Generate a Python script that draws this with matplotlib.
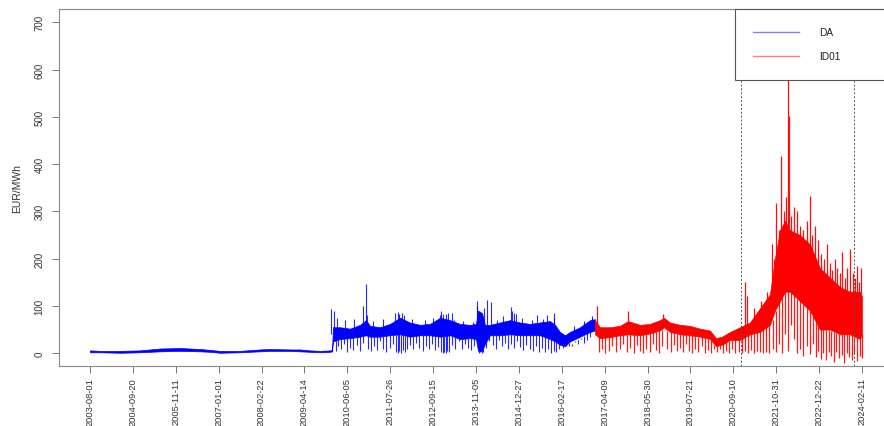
import numpy as np
import matplotlib
matplotlib.use("Agg")
import matplotlib.pyplot as plt
from matplotlib.lines import Line2D

plt.rcParams['font.family'] = ['Liberation Sans', 'DejaVu Sans']

# ---------------- data ----------------
START = np.datetime64("2003-08-01")

tick_labels = ["2003-08-01", "2004-09-20", "2005-11-11", "2007-01-01", "2008-02-22",
               "2009-04-14", "2010-06-05", "2011-07-26", "2012-09-15", "2013-11-05",
               "2014-12-27", "2016-02-17", "2017-04-09", "2018-05-30", "2019-07-21",
               "2020-09-10", "2021-10-31", "2022-12-22", "2024-02-11"]
y_ticks = [0, 100, 200, 300, 400, 500, 600, 700]

# DA (day-ahead): dense band, days since 2003-08-01, lower / upper envelope (EUR/MWh)
da_days = [0, 97, 291, 486, 583, 680, 874, 1069, 1166, 1263, 1457, 1651, 1748, 1943,
           2040, 2137, 2234, 2331, 2351, 2360, 2428, 2526, 2623, 2681, 2720, 2817, 2914,
           3011, 3108, 3205, 3302, 3400, 3497, 3594, 3691, 3749, 3769, 3808, 3837, 3885,
           3982, 4080, 4177, 4274, 4371, 4468, 4517, 4565, 4614, 4662, 4760, 4857, 4905]
da_low = [2, 2, 1, 2, 3, 4, 5, 4, 3, 1, 2, 4, 5, 5,
          4, 3, 2, 3, 4, 25, 30, 32, 35, 38, 35, 35, 38,
          40, 35, 38, 38, 35, 38, 30, 32, 30, 5, 5, 20, 38,
          38, 40, 38, 38, 38, 30, 25, 18, 15, 25, 35, 45, 48]
da_high = [6, 5, 5, 6, 8, 10, 11, 9, 7, 5, 5, 8, 9, 8,
           8, 6, 5, 6, 7, 55, 55, 52, 60, 70, 58, 55, 62,
           75, 65, 60, 62, 75, 70, 62, 60, 62, 90, 85, 60, 60,
           65, 70, 65, 62, 65, 68, 60, 45, 38, 45, 55, 70, 72]

# DA single-hour excursions above the band: day, from, to
da_up_days = [2341, 2370, 2400, 2480, 2560, 2652, 2681, 2690, 2750, 2850, 2960, 2992,
              3000, 3030, 3050, 3130, 3250, 3330, 3395, 3409, 3430, 3460, 3477, 3516,
              3540, 3620, 3720, 3759, 3760, 3830, 3856, 3895, 3950, 4010, 4089, 4100,
              4118, 4140, 4200, 4290, 4342, 4400, 4440, 4507, 4510, 4700, 4800, 4876, 4880]
da_up_lo = [40, 40, 50, 50, 50, 55, 60, 55, 55, 55, 60, 60,
            60, 60, 60, 55, 55, 55, 60, 60, 60, 60, 60, 60,
            55, 55, 55, 60, 60, 60, 60, 60, 55, 55, 60, 60,
            60, 60, 55, 55, 55, 55, 55, 55, 55, 40, 50, 60, 60]
da_up_hi = [93, 90, 75, 70, 72, 100, 146, 80, 68, 72, 85, 88,
            82, 85, 80, 72, 70, 75, 80, 89, 84, 82, 86, 86,
            70, 68, 66, 110, 100, 95, 112, 108, 70, 78, 97, 90,
            85, 82, 75, 70, 80, 72, 80, 85, 75, 58, 68, 78, 75]

# DA single-hour excursions below the band: day, from, to
da_dn_days = [2385, 2410, 2440, 2470, 2500, 2530, 2555, 2590, 2620, 2650, 2700, 2730,
              2760, 2790, 2820, 2850, 2880, 2910, 2945, 2975, 2990, 3005, 3020, 3040,
              3060, 3080, 3110, 3140, 3170, 3200, 3230, 3260, 3290, 3320, 3350, 3380,
              3410, 3425, 3440, 3455, 3470, 3490, 3520, 3550, 3580, 3610, 3640, 3670,
              3700, 3730, 3775, 3790, 3805, 3820, 3850, 3880, 3910, 3940, 3970, 4000,
              4030, 4060, 4090, 4120, 4150, 4180, 4210, 4240, 4270, 4300, 4330, 4360,
              4390, 4420, 4450, 4480, 4505, 4530, 4560, 4590, 4620, 4650, 4680, 4710,
              4740, 4770, 4800, 4830, 4860]
da_dn_lo = [5, 15, 8, 20, 3, 12, 6, 18, 4, 22, 10, 4,
            15, 6, 25, 8, 3, 12, 20, 2, 0, 4, 1, 6,
            2, 10, 18, 8, 22, 12, 5, 15, 9, 20, 6, 14,
            2, 0, 3, 1, 5, 2, 18, 10, 25, 8, 20, 12,
            6, 15, 0, 2, 1, 3, 12, 25, 18, 10, 28, 15,
            22, 8, 20, 12, 26, 14, 6, 18, 10, 4, 15, 3,
            12, 2, 8, 1, 5, 3, 8, 12, 18, 22, 15, 25,
            20, 30, 22, 28, 35]
da_dn_hi = [32, 32, 34, 34, 34, 34, 35, 36, 36, 36, 38, 36,
            36, 36, 36, 36, 37, 38, 38, 38, 40, 40, 40, 38,
            36, 36, 36, 37, 38, 38, 38, 38, 38, 38, 37, 36,
            36, 36, 36, 38, 38, 38, 36, 34, 32, 30, 32, 32,
            32, 32, 30, 30, 30, 30, 30, 36, 38, 38, 38, 39,
            40, 40, 40, 39, 38, 38, 38, 38, 38, 38, 38, 38,
            36, 34, 32, 30, 28, 25, 20, 18, 16, 15, 20, 24,
            28, 32, 36, 42, 46]

# ID01 (intraday): dense band
id_days = [4905, 4954, 5051, 5148, 5226, 5342, 5439, 5536, 5575, 5634, 5731, 5828, 5925,
           6022, 6081, 6139, 6217, 6314, 6411, 6508, 6605, 6653, 6702, 6751, 6800, 6897,
           6994, 7091, 7188, 7285, 7382, 7479, 7498]
id_low = [40, 32, 34, 38, 40, 38, 42, 48, 55, 45, 40, 38, 35,
          30, 15, 18, 28, 28, 40, 45, 60, 90, 110, 130, 130, 110,
          90, 50, 50, 40, 40, 30, 40]
id_high = [70, 55, 55, 58, 68, 60, 62, 70, 75, 65, 60, 58, 52,
           48, 32, 35, 45, 55, 65, 95, 125, 200, 260, 280, 260, 250,
           230, 180, 160, 140, 130, 130, 120]

# ID01 excursions above the band
id_up_days = [4924, 5226, 5566, 6362, 6381, 6450, 6520, 6580, 6624, 6640, 6663, 6690,
              6711, 6740, 6765, 6780, 6789, 6810, 6840, 6867, 6896, 6930, 6960, 6993,
              7015, 7041, 7070, 7100, 7130, 7158, 7185, 7210, 7236, 7260, 7285, 7304,
              7330, 7355, 7382, 7410, 7430, 7450, 7470, 7489]
id_up_lo = [60, 60, 65, 55, 55, 60, 70, 80, 100, 110, 150, 160,
            200, 200, 200, 250, 250, 200, 200, 200, 200, 180, 180, 200,
            180, 180, 150, 150, 130, 150, 130, 120, 130, 120, 110, 120,
            100, 110, 120, 100, 110, 110, 100, 100]
id_up_hi = [100, 89, 82, 150, 120, 95, 110, 130, 230, 200, 318, 260,
            417, 300, 330, 720, 501, 290, 310, 300, 270, 260, 280, 332,
            250, 270, 240, 210, 200, 230, 190, 175, 200, 180, 170, 215,
            160, 180, 220, 170, 160, 185, 150, 180]

# ID01 excursions below the band
id_dn_days = [4940, 4975, 5005, 5040, 5075, 5110, 5145, 5180, 5215, 5250, 5280, 5310,
              5345, 5375, 5405, 5440, 5470, 5500, 5530, 5560, 5600, 5640, 5670, 5700,
              5730, 5760, 5790, 5820, 5850, 5880, 5910, 5940, 5970, 6000, 6030, 6060,
              6090, 6120, 6150, 6180, 6210, 6240, 6270, 6300, 6330, 6360, 6390, 6420,
              6450, 6480, 6510, 6540, 6570, 6600, 6630, 6660, 6690, 6720, 6750, 6780,
              6810, 6840, 6870, 6900, 6930, 6960, 6990, 7020, 7050, 7075, 7100, 7125,
              7150, 7175, 7200, 7225, 7250, 7275, 7300, 7325, 7350, 7375, 7400, 7425,
              7450, 7475, 7495]
id_dn_lo = [2, 10, 0, 5, 15, 3, 8, 20, 2, 12, 0, 18,
            5, 1, 10, 3, 20, 6, 0, 15, 8, 2, 18, 5,
            12, 2, 20, 4, 0, 10, 3, 15, 1, 6, 0, 8,
            2, 10, 0, 5, 1, 8, 0, 3, 0, 5, 1, 6,
            0, 4, 2, 0, 3, 0, 8, 2, 20, 0, 40, 5,
            60, 30, 0, 10, -5, 15, -2, 20, -8, 5, -12, 0,
            -15, 3, -6, -18, 2, -10, -3, -20, 0, -8, -14, -2,
            -16, -6, -10]
id_dn_hi = [40, 35, 35, 36, 36, 38, 38, 40, 40, 40, 40, 38,
            38, 40, 40, 42, 45, 45, 48, 50, 48, 45, 42, 40,
            40, 40, 38, 38, 38, 36, 35, 34, 32, 30, 28, 18,
            18, 20, 22, 26, 28, 28, 30, 30, 32, 38, 40, 42,
            45, 48, 50, 52, 55, 60, 70, 90, 110, 120, 130, 130,
            130, 125, 115, 110, 105, 100, 95, 90, 80, 60, 55, 52,
            50, 50, 48, 45, 42, 40, 40, 40, 40, 40, 38, 35,
            35, 35, 40]

event_dates = ["2020-11-22", "2023-11-24"]
series_labels = ["DA", "ID01"]
y_label = "EUR/MWh"


def to_dates(days):
    return START + np.array(days, dtype="timedelta64[D]")


# ---------------- figure ----------------
fig = plt.figure(figsize=(8.84, 4.27), dpi=100)
ax = fig.add_axes([58.5 / 884, 60 / 427, 835 / 884, 357 / 427])

BLUE = "#0000FF"
RED = "#FF0000"

ax.fill_between(to_dates(da_days), da_low, da_high, color=BLUE, lw=0.5, zorder=2)
ax.vlines(to_dates(da_dn_days), da_dn_lo, da_dn_hi, color=BLUE, lw=0.8,
          alpha=0.85, zorder=2)
ax.vlines(to_dates(da_up_days), da_up_lo, da_up_hi, color=BLUE, lw=0.8,
          alpha=0.85, zorder=2)

ax.fill_between(to_dates(id_days), id_low, id_high, color=RED, lw=0.5, zorder=3)
ax.vlines(to_dates(id_dn_days), id_dn_lo, id_dn_hi, color=RED, lw=0.9,
          alpha=0.9, zorder=3)
ax.vlines(to_dates(id_up_days), id_up_lo, id_up_hi, color=RED, lw=0.9,
          alpha=0.95, zorder=3)

for d in event_dates:
    ax.axvline(np.datetime64(d), color="#555555", lw=0.7, ls=(0, (2, 2)), zorder=4)

ax.set_xlim(START - np.timedelta64(306, "D"), START + np.timedelta64(7805, "D"))
ax.set_ylim(-27, 728)

tick_dates = np.array(tick_labels, dtype="datetime64[D]")
ax.set_xticks(tick_dates)
ax.set_xticklabels(tick_labels, rotation=90, va="top", ha="center", fontsize=6.7)
ax.set_yticks(y_ticks)
ax.set_yticklabels([str(v) for v in y_ticks], rotation=90, va="center", fontsize=7)

ax.tick_params(axis="both", direction="out", length=5, width=0.7, color="#777777",
               labelcolor="#333333")
ax.tick_params(axis="x", pad=3)
ax.tick_params(axis="y", pad=5)

for sp in ax.spines.values():
    sp.set_color("#888888")
    sp.set_linewidth(0.8)

ax.set_ylabel(y_label, fontsize=7.5, color="#333333")
ax.yaxis.set_label_coords(-0.043, 0.5)

handles = [Line2D([], [], color=BLUE, lw=1.0, alpha=0.5),
           Line2D([], [], color=RED, lw=1.0, alpha=0.5)]
leg = ax.legend(handles, series_labels, loc="upper left",
                bbox_to_anchor=(0.810, 0.0, 0.19, 1.0), mode="expand",
                borderaxespad=0, fancybox=False, framealpha=1, edgecolor="#555555",
                fontsize=7.3, handlelength=4.5, handletextpad=2.0, labelspacing=1.4,
                borderpad=1.8)
leg.get_frame().set_linewidth(0.8)
for t in leg.get_texts():
    t.set_color("#222222")
leg.set_zorder(10)

fig.savefig("out.png", dpi=100)
